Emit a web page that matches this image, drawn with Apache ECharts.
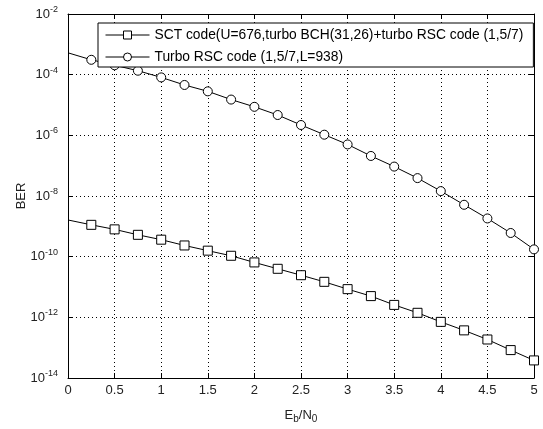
<!DOCTYPE html>
<html>
<head>
<meta charset="utf-8">
<script src="https://cdn.jsdelivr.net/npm/echarts@6/dist/echarts.min.js"></script>
<style>
html,body{margin:0;padding:0;background:#fff;}
#chart{width:543px;height:429px;}
</style>
</head>
<body>
<div id="chart"></div>
<script>
const ebn0 = [0, 0.25, 0.5, 0.75, 1, 1.25, 1.5, 1.75, 2, 2.25, 2.5, 2.75, 3, 3.25, 3.5, 3.75, 4, 4.25, 4.5, 4.75, 5];
const sctBER = [1.62e-9, 1.12e-9, 7.94e-10, 5.25e-10, 3.63e-10, 2.34e-10, 1.58e-10, 1.07e-10, 6.46e-11, 3.98e-11, 2.45e-11, 1.48e-11, 8.51e-12, 5.01e-12, 2.57e-12, 1.41e-12, 7.08e-13, 3.72e-13, 1.86e-13, 8.32e-14, 3.80e-14];
const turboBER = [5.25e-4, 3.09e-4, 2.04e-4, 1.35e-4, 8.13e-5, 4.57e-5, 2.82e-5, 1.51e-5, 8.71e-6, 4.68e-6, 2.19e-6, 1.05e-6, 5.01e-7, 2.09e-7, 9.33e-8, 3.89e-8, 1.45e-8, 5.13e-9, 1.82e-9, 6.03e-10, 1.74e-10];
const seriesNames = ['SCT code(U=676,turbo BCH(31,26)+turbo RSC code (1,5/7)', 'Turbo RSC code (1,5/7,L=938)'];
const xTicks = ['0', '0.5', '1', '1.5', '2', '2.5', '3', '3.5', '4', '4.5', '5'];
const yTickExponents = [-14, -12, -10, -8, -6, -4, -2];

// y axis is drawn in decades (log10 of BER)
function pts(ys) {
  return ebn0.map((x, i) => {
    const p = [x, Math.log10(ys[i])];
    return i === 0 ? { value: p, symbol: 'none' } : p;
  });
}

const FONT = 'Liberation Sans, Arial, sans-serif';
const chart = echarts.init(document.getElementById('chart'), null, { renderer: 'canvas' });
const gridLine = { show: true, lineStyle: { color: '#000', width: 1, type: [1, 3] } };
const axLine = { show: true, onZero: false, lineStyle: { color: '#000', width: 1 } };
const tick = { show: true, inside: true, length: 5, lineStyle: { color: '#000' } };
const yMin = yTickExponents[0], yMax = yTickExponents[yTickExponents.length - 1];

chart.setOption({
  animation: false,
  backgroundColor: '#fff',
  grid: { left: 68, right: 9, top: 14, bottom: 49, show: false },
  legend: {
    left: 98, top: 23,
    orient: 'vertical',
    backgroundColor: '#fff',
    borderColor: '#000', borderWidth: 1, borderRadius: 0,
    padding: [5, 10, 3, 7],
    itemGap: 8,
    itemWidth: 44, itemHeight: 10,
    lineStyle: { width: 1, color: '#000' },
    itemStyle: { borderWidth: 1, borderColor: '#000', color: '#fff' },
    textStyle: { fontFamily: FONT, fontSize: 13.8, color: '#000' },
    data: seriesNames
  },
  xAxis: [{
    type: 'value', min: 0, max: 5, interval: 0.5,
    axisLine: axLine, axisTick: tick, splitLine: gridLine,
    axisLabel: { margin: 6, fontFamily: FONT, fontSize: 13, color: '#222',
      formatter: v => xTicks[Math.round(v * 2)] },
    name: '{n|E}{s|b}{n|/N}{s|0}', nameLocation: 'middle', nameGap: 28,
    nameTextStyle: { rich: {
      n: { fontFamily: FONT, fontSize: 13, color: '#222' },
      s: { fontFamily: FONT, fontSize: 10, color: '#222', padding: [8, 0, 0, 0] }
    } }
  }, {
    type: 'value', min: 0, max: 5, interval: 0.5, position: 'top',
    axisLine: axLine, axisTick: tick, splitLine: { show: false }, axisLabel: { show: false }
  }],
  yAxis: [{
    type: 'value', min: yMin, max: yMax, interval: 2,
    axisLine: axLine, axisTick: tick, splitLine: gridLine,
    axisLabel: { margin: 10, formatter: v => '{b|10}{s|' + Math.round(v) + '}',
      rich: {
        b: { fontFamily: FONT, fontSize: 13, color: '#222' },
        s: { fontFamily: FONT, fontSize: 9, color: '#222', padding: [0, 0, 9, 0] }
      } },
    name: 'BER', nameLocation: 'middle', nameGap: 40, nameMoveOverlap: false,
    nameTextStyle: { fontFamily: FONT, fontSize: 13, color: '#222' }
  }, {
    type: 'value', min: yMin, max: yMax, interval: 2, position: 'right',
    axisLine: axLine, axisTick: tick, splitLine: { show: false }, axisLabel: { show: false }
  }],
  series: [{
    name: seriesNames[0], type: 'line', xAxisIndex: 0, yAxisIndex: 0,
    data: pts(sctBER), symbol: 'rect', symbolSize: 9, showAllSymbol: true,
    lineStyle: { color: '#000', width: 1 },
    itemStyle: { color: '#fff', borderColor: '#000', borderWidth: 1 }
  }, {
    name: seriesNames[1], type: 'line', xAxisIndex: 0, yAxisIndex: 0,
    data: pts(turboBER), symbol: 'circle', symbolSize: 9, showAllSymbol: true,
    lineStyle: { color: '#000', width: 1 },
    itemStyle: { color: '#fff', borderColor: '#000', borderWidth: 1 }
  }]
});
</script>
</body>
</html>
